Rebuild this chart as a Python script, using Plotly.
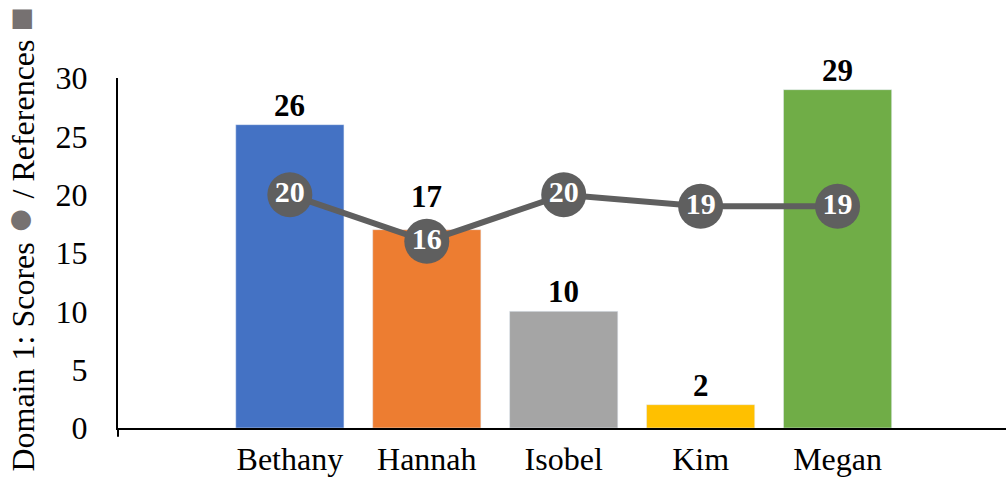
import plotly.graph_objects as go

names = ["Bethany", "Hannah", "Isobel", "Kim", "Megan"]
references = [26, 17, 10, 2, 29]
scores = [20, 16, 20, 19, 19]
bar_colors = ["#4472C4", "#ED7D31", "#A5A5A5", "#FFC000", "#70AD47"]
y_ticks = [0, 5, 10, 15, 20, 25, 30]

FONT = "Liberation Serif, Times New Roman, serif"
x_pos = list(range(len(names)))

fig = go.Figure()
fig.add_trace(go.Bar(
    x=x_pos, y=references, marker_color=bar_colors, width=0.79,
    showlegend=False,
))
fig.add_trace(go.Scatter(
    x=x_pos, y=scores, mode="lines+markers+text",
    line=dict(color="#5F5F5F", width=6),
    marker=dict(size=45, color="#5F5F5F"),
    text=[str(v) for v in scores], textposition="middle center",
    textfont=dict(family=FONT, size=30, color="white", weight="bold"),
    cliponaxis=False, showlegend=False,
))

# Value labels above bars; lift a label clear of a score marker sitting just under it
annotations = []
for xi, ref, sc in zip(x_pos, references, scores):
    lift = 14 if 0 <= ref - sc <= 3 else 0
    annotations.append(dict(
        x=xi, y=ref, xref="x", yref="y", text=f"<b>{ref}</b>",
        showarrow=False, yanchor="bottom", yshift=lift,
        font=dict(family=FONT, size=31, color="black"),
    ))

annotations.append(dict(
    text="Domain 1: Scores <span style='color:#767171;font-size:46px'>●</span> / References "
         "<span style='color:#767171;font-size:40px'>■</span>",
    xref="paper", yref="paper", x=-0.112, y=0.537, xanchor="center",
    yanchor="middle", textangle=-90, showarrow=False,
    font=dict(family=FONT, size=32, color="black"),
))

fig.update_layout(
    width=1006, height=477,
    margin=dict(l=118, r=0, t=78, b=49),
    paper_bgcolor="white", plot_bgcolor="white",
    font=dict(family=FONT, size=32, color="black"),
    bargap=0.21,
    xaxis=dict(
        range=[-1.255, 5.23], tickvals=x_pos, ticktext=names,
        showgrid=False, zeroline=False, showline=True, linecolor="black",
        linewidth=2, ticks="outside", ticklen=0, ticklabelstandoff=2,
        tickfont=dict(family=FONT, size=32), automargin=False,
    ),
    yaxis=dict(
        range=[0, 30], tickvals=y_ticks, showgrid=False, zeroline=False,
        showline=True, linecolor="black", linewidth=2, ticks="outside",
        ticklen=0, ticklabelstandoff=22, tickfont=dict(family=FONT, size=32),
        automargin=False,
    ),
    annotations=annotations,
    shapes=[dict(type="line", xref="paper", yref="paper", x0=0, x1=0,
                 y0=0, y1=-0.025, line=dict(color="black", width=2))],
)

fig.write_html("out.html")
